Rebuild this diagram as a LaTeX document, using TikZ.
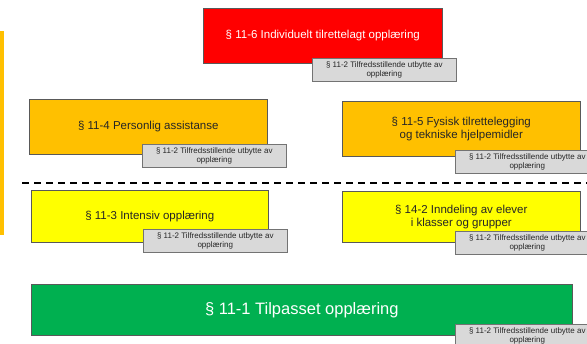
\documentclass[tikz,border=0pt]{standalone}
\usepackage{fontspec}
\setmainfont{Liberation Sans}
\definecolor{rodt}{HTML}{FF0000}
\definecolor{oransje}{HTML}{FFC000}
\definecolor{gult}{HTML}{FFFF00}
\definecolor{gront}{HTML}{00B050}
\definecolor{graatt}{HTML}{D9D9D9}
\begin{document}
\begin{tikzpicture}[x=1pt, y=-1pt,
    box/.style = {draw=black!65, line width=0.6pt, anchor=north west, align=center, inner sep=0pt, text=black!85, font=\fontsize{11.5}{13.3}\selectfont},
    note/.style = {draw=black!55, line width=0.6pt, fill=graatt, anchor=north west, align=center, inner sep=0pt, text=black!85, minimum width=144pt, minimum height=23pt, font=\fontsize{8}{9.3}\selectfont}]
                \useasboundingbox (0,0) rectangle (587,344);
                \fill[oransje] (0,31) rectangle (4,235);
                \node[box, fill=rodt, text=white, minimum width=239pt, minimum height=55pt] (6) at (203,8) {§ 11-6 Individuelt tilrettelagt opplæring};
                \node[note] (6n) at (312,58) {§ 11-2 Tilfredsstillende utbytte av\\opplæring};
                \node[box, fill=oransje, minimum width=238pt, minimum height=55pt] (4) at (29,99) {§ 11-4 Personlig assistanse};
                \node[note] (4n) at (142,144) {§ 11-2 Tilfredsstillende utbytte av\\opplæring};
                \node[box, fill=oransje, minimum width=238pt, minimum height=55pt] (5) at (342,101) {§ 11-5 Fysisk tilrettelegging\\og tekniske hjelpemidler};
                \node[note] (5n) at (455,150) {§ 11-2 Tilfredsstillende utbytte av\\opplæring};
                \coordinate (sv) at (22,183);
                \coordinate (sh) at (587,183);
                \draw[dashed, line width=1.2pt, dash pattern=on 7pt off 5pt] (sv) -- (sh);
                \node[box, fill=gult, minimum width=237pt, minimum height=52pt] (3) at (31,190) {§ 11-3 Intensiv opplæring};
                \node[note] (3n) at (143,229) {§ 11-2 Tilfredsstillende utbytte av\\opplæring};
                \node[box, fill=gult, minimum width=238pt, minimum height=51pt] (14) at (342,191) {§ 14-2 Inndeling av elever\\i klasser og grupper};
                \node[note] (14n) at (455,231) {§ 11-2 Tilfredsstillende utbytte av\\opplæring};
                \node[box, fill=gront, text=white, minimum width=541pt, minimum height=51pt, font=\fontsize{16.5}{19}\selectfont] (1) at (31,284) {§ 11-1 Tilpasset opplæring};
                \node[note] (1n) at (455,324) {§ 11-2 Tilfredsstillende utbytte av\\opplæring};
            \end{tikzpicture}
\end{document}
